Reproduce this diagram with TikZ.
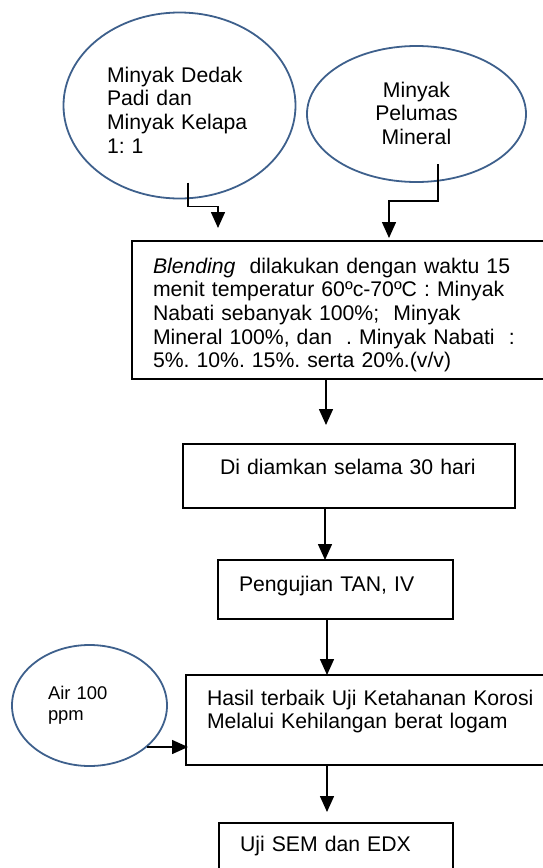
\documentclass[tikz,border=0pt]{standalone}
\usepackage{fontspec}
\setmainfont{Liberation Sans}
\usetikzlibrary{arrows.meta,positioning,shapes.geometric}
\definecolor{ovalblue}{RGB}{62,96,140}
\frenchspacing

\begin{document}
\begin{tikzpicture}[
  x = 1pt, y = -1pt,
  base/.style = {
    inner sep=0pt,
    outer sep=0pt,
    font=\fontsize{21.2}{23.7}\selectfont
  },
  box/.style = {base, rectangle, draw, line width=1.6pt, anchor=north west, align=left, inner xsep=#1},
  oval/.style = {base, ellipse, draw=ovalblue, line width=1.8pt},
  arr/.style = {line width=1.5pt, -{Triangle[length=16pt,width=14pt]}},
  ]
  \useasboundingbox (0,0) rectangle (542,868);
  % bahan
  \node[oval, align=left, minimum width=232pt, minimum height=186pt,
        text width=145pt, text height=15pt, text depth=62pt] (dedak) at (179.5,105.5)
        {Minyak Dedak\\ Padi dan\\ Minyak Kelapa\\ 1: 1};
  \node[oval, align=center, minimum width=219pt, minimum height=136pt,
        text width=120pt, text height=15pt, text depth=49pt] (pelumas) at (416.5,114)
        {Minyak\\ Pelumas\\ Mineral};
  \node[oval, align=left, minimum width=155pt, minimum height=121pt,
        text width=83pt, text height=13pt, text depth=26pt,
        font=\fontsize{18.4}{21}\selectfont] (air) at (89.5,705.5)
        {Air 100\\ ppm};
  % proses
  \node[box=21pt, text width=372pt, text height=32pt, text depth=106pt] (blending) at (132,241)
        {\textit{Blending}~ dilakukan dengan waktu 15\\
         menit temperatur 60ºc-70ºC : Minyak\\
         Nabati sebanyak 100\%;~ Minyak\\
         Mineral 100\%, dan~ . Minyak Nabati~ :\\
         5\%. 10\%. 15\%. serta 20\%.(v/v)};
  \node[box=37pt, text width=258pt, text height=30pt, text depth=34pt] (diam) at (183,444)
        {Di diamkan selama 30 hari};
  \node[box=21pt, text width=193pt, text height=31pt, text depth=28pt] (uji) at (218,560)
        {Pengujian TAN, IV};
  \node[box=21pt, text width=330pt, text height=30pt, text depth=60pt] (hasil) at (186,675)
        {Hasil terbaik Uji Ketahanan Korosi\\ Melalui Kehilangan berat logam};
  \node[box=21pt, text width=192pt, text height=28pt, text depth=32pt] (sem) at (219,823)
        {Uji SEM dan EDX};
  % panah
  \draw[arr] ([shift={(8.5,-16)}]dedak.south) -- ++(0,24) -| ([shift={(86,-13)}]blending.north west);
  \draw[arr] ([shift={(21.5,-18)}]pelumas.south) -- ++(0,37) -| ([shift={(257,-3)}]blending.north west);
  \draw[arr] ([shift={(194,0)}]blending.south west) -- ([shift={(143,-19)}]diam.north west);
  \draw[arr] ([shift={(142,0)}]diam.south west) -- ([shift={(107,0)}]uji.north west);
  \draw[arr] ([shift={(109,0)}]uji.south west) -- ([shift={(141,0)}]hasil.north west);
  \draw[arr] ([shift={(57.5,41.5)}]air.center) -- ([shift={(2,72)}]hasil.north west);
  \draw[arr] ([shift={(141,0)}]hasil.south west) -- ([shift={(108,-11)}]sem.north west);
\end{tikzpicture}
\end{document}
